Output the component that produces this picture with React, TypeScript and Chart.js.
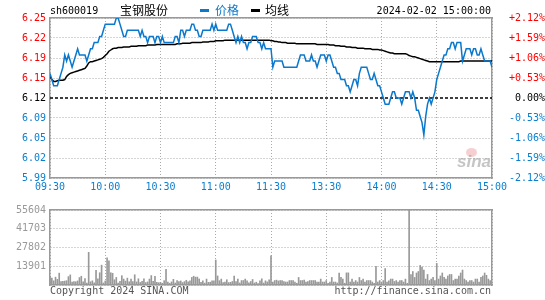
import React, { useEffect, useRef } from "react";
import { Chart, registerables } from "chart.js";

Chart.register(...registerables);

// ---------- data ----------
const prevClose = 6.12;
const priceMin = 5.99;
const priceMax = 6.25;
const priceTickValues = [5.99, 6.0225, 6.055, 6.0875, 6.12, 6.1525, 6.185, 6.2175, 6.25];
const priceTickLabels = ["5.99", "6.02", "6.05", "6.09", "6.12", "6.15", "6.19", "6.22", "6.25"];
const pctTickLabels = ["-2.12%", "-1.59%", "-1.06%", "-0.53%", "0.00%", "+0.53%", "+1.06%", "+1.59%", "+2.12%"];
const timeTickValues = [0, 30, 60, 90, 120, 150, 180, 210, 240];
const timeTickLabels = ["09:30", "10:00", "10:30", "11:00", "11:30", "13:30", "14:00", "14:30", "15:00"];
const volMax = 55604;
const volTickValues = [0, 13901, 27802, 41703, 55604];
const volTickLabels = ["", "13901", "27802", "41703", "55604"];

// one value per minute, 09:30 .. 11:30 / 13:00 .. 15:00 (241 points)
const price = [
  6.16, 6.15, 6.14, 6.14, 6.14, 6.15, 6.16, 6.17, 6.19, 6.18,
  6.19, 6.18, 6.17, 6.18, 6.19, 6.20, 6.19, 6.19, 6.19, 6.19,
  6.18, 6.19, 6.20, 6.20, 6.21, 6.21, 6.21, 6.22, 6.22, 6.23,
  6.24, 6.24, 6.24, 6.24, 6.24, 6.24, 6.25, 6.25, 6.24, 6.23,
  6.22, 6.22, 6.23, 6.23, 6.23, 6.23, 6.23, 6.23, 6.23, 6.22,
  6.23, 6.22, 6.22, 6.21, 6.22, 6.22, 6.22, 6.21, 6.22, 6.22,
  6.21, 6.22, 6.21, 6.21, 6.21, 6.21, 6.21, 6.21, 6.22, 6.22,
  6.21, 6.23, 6.23, 6.22, 6.23, 6.23, 6.23, 6.24, 6.24, 6.23,
  6.23, 6.22, 6.22, 6.23, 6.23, 6.23, 6.23, 6.23, 6.24, 6.23,
  6.24, 6.23, 6.23, 6.23, 6.23, 6.23, 6.23, 6.24, 6.24, 6.23,
  6.22, 6.21, 6.22, 6.21, 6.22, 6.21, 6.21, 6.20, 6.21, 6.21,
  6.22, 6.22, 6.22, 6.21, 6.21, 6.20, 6.21, 6.20, 6.20, 6.20,
  6.20,
  6.17, 6.18, 6.18, 6.18, 6.18, 6.18, 6.17, 6.17, 6.17, 6.17,
  6.17, 6.17, 6.17, 6.17, 6.18, 6.19, 6.19, 6.19, 6.18, 6.18,
  6.18, 6.19, 6.18, 6.18, 6.17, 6.18, 6.19, 6.19, 6.19, 6.18,
  6.19, 6.19, 6.18, 6.17, 6.17, 6.16, 6.16, 6.15, 6.15, 6.15,
  6.14, 6.14, 6.13, 6.14, 6.15, 6.15, 6.14, 6.16, 6.17, 6.17,
  6.17, 6.17, 6.16, 6.15, 6.15, 6.16, 6.15, 6.14, 6.14, 6.13,
  6.12, 6.11, 6.11, 6.11, 6.12, 6.13, 6.13, 6.12, 6.12, 6.12,
  6.11, 6.12, 6.13, 6.13, 6.13, 6.12, 6.13, 6.12, 6.10, 6.10,
  6.09, 6.08, 6.06, 6.09, 6.11, 6.12, 6.11, 6.12, 6.13, 6.15,
  6.16, 6.17, 6.18, 6.19, 6.19, 6.20, 6.20, 6.21, 6.21, 6.20,
  6.21, 6.21, 6.21, 6.18, 6.19, 6.20, 6.20, 6.20, 6.19, 6.20,
  6.20, 6.19, 6.19, 6.20, 6.19, 6.18, 6.18, 6.18, 6.18, 6.17,
];

const avgPrice = [
  6.155, 6.150, 6.147, 6.147, 6.148, 6.149, 6.149, 6.149, 6.150, 6.155,
  6.158, 6.160, 6.161, 6.162, 6.163, 6.164, 6.165, 6.166, 6.167, 6.168,
  6.172, 6.177, 6.179, 6.179, 6.180, 6.181, 6.182, 6.183, 6.184, 6.186,
  6.189, 6.192, 6.196, 6.198, 6.200, 6.201, 6.201, 6.202, 6.202, 6.202,
  6.203, 6.203, 6.203, 6.203, 6.204, 6.204, 6.204, 6.204, 6.205, 6.205,
  6.205, 6.205, 6.205, 6.206, 6.206, 6.206, 6.206, 6.206, 6.207, 6.207,
  6.207, 6.207, 6.207, 6.207, 6.207, 6.207, 6.207, 6.207, 6.207, 6.208,
  6.208, 6.208, 6.209, 6.209, 6.209, 6.209, 6.209, 6.210, 6.210, 6.210,
  6.210, 6.210, 6.210, 6.211, 6.211, 6.211, 6.211, 6.212, 6.212, 6.212,
  6.213, 6.213, 6.213, 6.213, 6.213, 6.214, 6.214, 6.214, 6.214, 6.214,
  6.214, 6.214, 6.214, 6.214, 6.214, 6.214, 6.214, 6.214, 6.214, 6.214,
  6.214, 6.214, 6.214, 6.214, 6.214, 6.214, 6.214, 6.214, 6.214, 6.214,
  6.213,
  6.213, 6.212, 6.212, 6.211, 6.211, 6.210, 6.210, 6.210, 6.209, 6.209,
  6.209, 6.209, 6.209, 6.208, 6.208, 6.208, 6.208, 6.208, 6.208, 6.208,
  6.208, 6.208, 6.208, 6.208, 6.207, 6.207, 6.207, 6.207, 6.207, 6.207,
  6.207, 6.206, 6.206, 6.206, 6.205, 6.205, 6.205, 6.204, 6.204, 6.204,
  6.203, 6.203, 6.203, 6.202, 6.202, 6.202, 6.201, 6.201, 6.201, 6.201,
  6.200, 6.200, 6.200, 6.200, 6.199, 6.199, 6.199, 6.199, 6.198, 6.198,
  6.197, 6.196, 6.195, 6.194, 6.193, 6.193, 6.192, 6.192, 6.192, 6.192,
  6.192, 6.192, 6.192, 6.191, 6.189, 6.188, 6.187, 6.187, 6.186, 6.185,
  6.184, 6.183, 6.182, 6.181, 6.180, 6.179, 6.179, 6.179, 6.179, 6.179,
  6.179, 6.179, 6.179, 6.179, 6.179, 6.179, 6.179, 6.179, 6.179, 6.179,
  6.179, 6.179, 6.180, 6.180, 6.180, 6.180, 6.180, 6.180, 6.180, 6.180,
  6.180, 6.180, 6.180, 6.180, 6.180, 6.180, 6.180, 6.180, 6.180, 6.180,
];

const volume = [
  6500, 5200, 3100, 5800, 4200, 8800, 2500, 2800, 2900, 3200,
  6200, 7500, 2200, 2600, 2400, 3000, 5500, 6500, 2400, 4800,
  1500, 24200, 2400, 3100, 1600, 10800, 4600, 9100, 14700, 1500,
  3000, 20200, 18000, 9100, 8700, 3900, 5600, 1500, 2800, 6900,
  4400, 2900, 5100, 2400, 4300, 2600, 7600, 2300, 4600, 1900,
  2800, 4600, 1800, 2300, 4400, 7000, 2800, 6500, 2000, 1700,
  1900, 1300, 3200, 11600, 2200, 1300, 2300, 4200, 1500, 3300,
  2600, 3000, 1800, 2500, 3500, 2400, 3000, 5600, 6500, 5800,
  5900, 4500, 2000, 3100, 1400, 4400, 2000, 2100, 3000, 3000,
  18500, 6700, 3200, 4400, 1800, 2200, 3900, 1800, 2000, 2600,
  6600, 2500, 4400, 1500, 3300, 3300, 4400, 3100, 1700, 2600,
  4100, 1500, 2100, 1100, 3100, 4600, 1500, 3100, 2300, 3800,
  21600,
  2200, 3300, 3600, 3000, 3300, 3300, 2600, 2200, 2200, 3300,
  3300, 3300, 2200, 1300, 5600, 3300, 3300, 3600, 2200, 2600,
  3300, 3300, 3300, 3300, 2200, 2200, 4400, 2200, 2200, 3300,
  1300, 2200, 5600, 2200, 2200, 1500, 8900, 5600, 4400, 1300,
  9000, 9000, 2200, 4400, 2200, 3300, 2200, 5600, 3300, 4400,
  2200, 3300, 3300, 3300, 2200, 1300, 13800, 2200, 3300, 2200,
  3300, 12200, 2200, 3000, 4400, 4400, 2600, 3300, 2200, 3300,
  3300, 2200, 4400, 1300, 55604, 7800, 10000, 5600, 8900, 10000,
  14500, 13300, 11100, 4400, 7800, 3300, 4400, 5600, 3300, 16000,
  4400, 6700, 8900, 5600, 4400, 6700, 7800, 7800, 3300, 4400,
  4400, 6700, 8900, 11100, 4400, 3300, 2200, 3300, 3300, 2200,
  4400, 4400, 2200, 5600, 6700, 8900, 7200, 4400, 3300, 4400,
];

// ---------- styles ----------
const BLUE = "#0a78cc";
const LABEL_BLUE = "#0a7fd0";
const RED = "#ff0000";
const BORDER = "#999999";
const GRID = "#aaaaaa";
const MONO = '"DejaVu Sans Mono", monospace';
const CJK = '"Noto Sans CJK SC", sans-serif';

Chart.defaults.font.family = MONO;
Chart.defaults.font.size = 10;

const lastIndex = price.length - 1;

export default function App() {
  const priceRef = useRef<HTMLCanvasElement | null>(null);
  const volRef = useRef<HTMLCanvasElement | null>(null);

  useEffect(() => {
    const priceChart = new Chart(priceRef.current as HTMLCanvasElement, {
      type: "line",
      data: {
        datasets: [
          {
            data: price.map((y, x) => ({ x, y })),
            borderColor: BLUE,
            borderWidth: 1.5,
            pointRadius: 0,
            tension: 0,
            order: 0,
          },
          {
            data: avgPrice.map((y, x) => ({ x, y })),
            borderColor: "#000",
            borderWidth: 1.5,
            pointRadius: 0,
            tension: 0,
            order: 1,
          },
          {
            data: [
              { x: 0, y: prevClose },
              { x: lastIndex, y: prevClose },
            ],
            borderColor: "#000",
            borderWidth: 1.3,
            borderDash: [3, 2],
            pointRadius: 0,
            order: 2,
          },
        ],
      },
      options: {
        responsive: false,
        animation: false,
        events: [],
        layout: { padding: { top: 18, left: 0, right: 0, bottom: 0 } },
        plugins: { legend: { display: false }, tooltip: { enabled: false } },
        scales: {
          x: {
            type: "linear",
            position: "bottom",
            min: 0,
            max: lastIndex,
            afterBuildTicks: (s: any) => {
              s.ticks = timeTickValues.map((v) => ({ value: v }));
            },
            afterFit: (s: any) => {
              s.height = 22;
            },
            ticks: {
              autoSkip: false,
              maxRotation: 0,
              padding: 3,
              color: LABEL_BLUE,
              callback: (_v: any, i: number) => timeTickLabels[i],
            },
            grid: { color: GRID, drawTicks: false, lineWidth: 1 },
            border: { color: BORDER, width: 1.5, dash: [1, 2] },
          },
          xTop: {
            type: "linear",
            position: "top",
            min: 0,
            max: lastIndex,
            afterFit: (s: any) => {
              s.height = 0;
            },
            ticks: { display: false },
            grid: { display: false, drawTicks: false },
            border: { display: true, color: BORDER, width: 1.5 },
          },
          y: {
            type: "linear",
            position: "left",
            min: priceMin,
            max: priceMax,
            afterBuildTicks: (s: any) => {
              s.ticks = priceTickValues.map((v) => ({ value: v }));
            },
            afterFit: (s: any) => {
              s.width = 50;
            },
            ticks: {
              autoSkip: false,
              padding: 4,
              color: (ctx: any) => {
                const v = ctx.tick.value;
                if (Math.abs(v - prevClose) < 1e-6) return "#000";
                return v > prevClose ? RED : LABEL_BLUE;
              },
              callback: (_v: any, i: number) => priceTickLabels[i],
            },
            grid: {
              drawTicks: false,
              lineWidth: 1,
              color: (ctx: any) =>
                ctx.tick && Math.abs(ctx.tick.value - prevClose) < 1e-6 ? "rgba(0,0,0,0)" : GRID,
            },
            border: { color: BORDER, width: 1.5, dash: [1, 2] },
          },
          y1: {
            type: "linear",
            position: "right",
            min: priceMin,
            max: priceMax,
            afterBuildTicks: (s: any) => {
              s.ticks = priceTickValues.map((v) => ({ value: v }));
            },
            afterFit: (s: any) => {
              s.width = 53;
            },
            ticks: {
              autoSkip: false,
              padding: 0,
              crossAlign: "far",
              color: (ctx: any) => {
                const v = ctx.tick.value;
                if (Math.abs(v - prevClose) < 1e-6) return "#000";
                return v > prevClose ? RED : LABEL_BLUE;
              },
              callback: (_v: any, i: number) => pctTickLabels[i],
            },
            grid: {
              display: true,
              drawOnChartArea: false,
              drawTicks: true,
              tickLength: 2,
              tickColor: "rgba(0,0,0,0)",
              color: "rgba(0,0,0,0)",
            },
            border: { color: BORDER, width: 1.5 },
          },
        },
      },
    } as any);

    const volChart = new Chart(volRef.current as HTMLCanvasElement, {
      type: "bar",
      data: {
        datasets: [
          {
            data: volume.map((y, x) => ({ x, y })),
            backgroundColor: "#999999",
            borderWidth: 0,
            barThickness: 1,
          },
        ],
      },
      options: {
        responsive: false,
        animation: false,
        events: [],
        layout: { padding: { top: 2, left: 0, right: 0, bottom: 15 } },
        plugins: { legend: { display: false }, tooltip: { enabled: false } },
        scales: {
          x: {
            type: "linear",
            position: "bottom",
            offset: false,
            min: 0,
            max: lastIndex,
            afterBuildTicks: (s: any) => {
              s.ticks = timeTickValues.map((v) => ({ value: v }));
            },
            afterFit: (s: any) => {
              s.height = 0;
            },
            ticks: { display: false },
            grid: { color: GRID, drawTicks: false, offset: false, lineWidth: 1 },
            border: { color: BORDER, width: 1.5, dash: [1, 2] },
          },
          xTop: {
            type: "linear",
            position: "top",
            min: 0,
            max: lastIndex,
            afterFit: (s: any) => {
              s.height = 0;
            },
            ticks: { display: false },
            grid: { display: false, drawTicks: false },
            border: { display: true, color: BORDER, width: 1.5 },
          },
          y: {
            type: "linear",
            position: "left",
            min: 0,
            max: volMax,
            afterBuildTicks: (s: any) => {
              s.ticks = volTickValues.map((v) => ({ value: v }));
            },
            afterFit: (s: any) => {
              s.width = 50;
            },
            ticks: {
              autoSkip: false,
              padding: 4,
              color: "#999999",
              callback: (_v: any, i: number) => volTickLabels[i],
            },
            grid: { color: GRID, drawTicks: false, lineWidth: 1 },
            border: { color: BORDER, width: 1.5, dash: [1, 2] },
          },
          y1: {
            type: "linear",
            position: "right",
            min: 0,
            max: volMax,
            afterFit: (s: any) => {
              s.width = 53;
            },
            ticks: { display: false },
            grid: { display: false, drawTicks: false },
            border: { display: true, color: BORDER, width: 1.5 },
          },
        },
      },
    } as any);

    return () => {
      priceChart.destroy();
      volChart.destroy();
    };
  }, []);

  const abs = (o: React.CSSProperties): React.CSSProperties => ({
    position: "absolute",
    whiteSpace: "pre",
    margin: 0,
    ...o,
  });

  return (
    <div
      style={{
        position: "absolute",
        left: 0,
        top: 0,
        width: 545,
        height: 300,
        background: "#fff",
        overflow: "hidden",
      }}
    >
      <canvas
        ref={priceRef}
        width={545}
        height={200}
        style={{ position: "absolute", left: 0, top: 0, width: 545, height: 200, display: "block" }}
      />
      <canvas
        ref={volRef}
        width={545}
        height={100}
        style={{ position: "absolute", left: 0, top: 200, width: 545, height: 100, display: "block" }}
      />

      {/* header */}
      <div style={abs({ left: 50, top: 5, fontFamily: MONO, fontSize: 10, lineHeight: "12px", color: "#000" })}>
        sh600019
      </div>
      <div style={abs({ left: 120, top: 3, fontFamily: CJK, fontSize: 12, lineHeight: "14px", color: "#000" })}>
        宝钢股份
      </div>
      <div style={abs({ left: 200, top: 9, width: 9, height: 3, background: BLUE })} />
      <div style={abs({ left: 215, top: 3, fontFamily: CJK, fontSize: 12, lineHeight: "14px", color: BLUE })}>
        价格
      </div>
      <div style={abs({ left: 251, top: 9, width: 9, height: 3, background: "#000" })} />
      <div style={abs({ left: 265, top: 3, fontFamily: CJK, fontSize: 12, lineHeight: "14px", color: "#000" })}>
        均线
      </div>
      <div style={abs({ right: 54, top: 5, fontFamily: MONO, fontSize: 10, lineHeight: "12px", color: "#000" })}>
        2024-02-02 15:00:00
      </div>

      {/* watermark */}
      <div
        style={abs({
          left: 466,
          top: 148,
          width: 11,
          height: 9,
          borderRadius: "50%",
          background: "rgba(230,120,120,0.35)",
        })}
      />
      <div
        style={abs({
          left: 457,
          top: 152,
          fontFamily: '"Liberation Sans", sans-serif',
          fontStyle: "italic",
          fontWeight: "bold",
          fontSize: 17,
          lineHeight: "20px",
          color: "rgba(150,150,150,0.55)",
        })}
      >
        sina
      </div>

      {/* footer */}
      <div style={abs({ left: 50, top: 285, fontFamily: MONO, fontSize: 10, lineHeight: "12px", color: "#555" })}>
        Copyright 2024 SINA.COM
      </div>
      <div style={abs({ right: 54, top: 285, fontFamily: MONO, fontSize: 10, lineHeight: "12px", color: "#555" })}>
        http://finance.sina.com.cn
      </div>
    </div>
  );
}
